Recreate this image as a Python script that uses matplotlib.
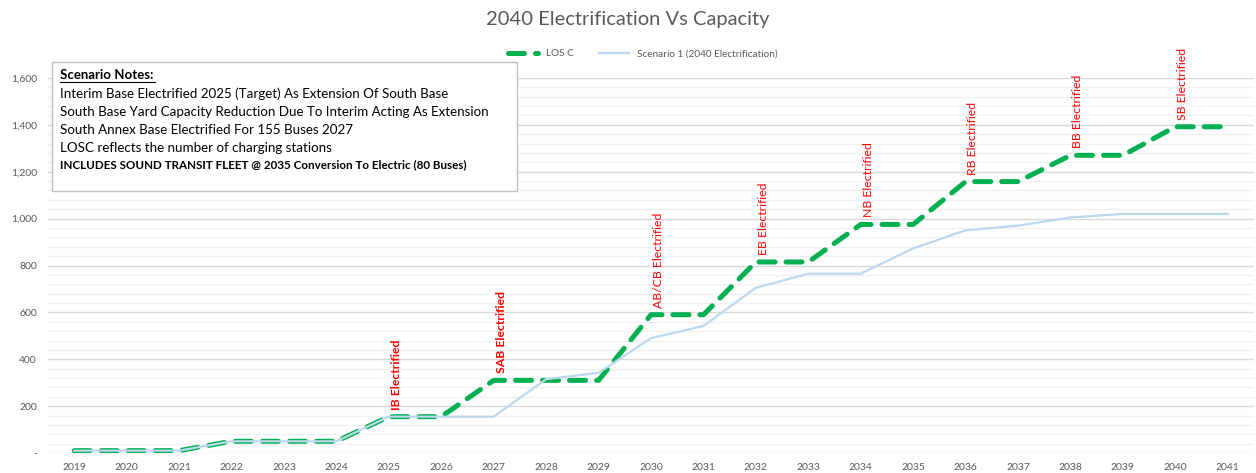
import matplotlib
matplotlib.use("Agg")
import matplotlib.pyplot as plt
from matplotlib.ticker import MultipleLocator, FuncFormatter
from matplotlib.patches import Rectangle

years = [str(y) for y in range(2019, 2042)]
los_c = [10, 10, 10, 50, 50, 50, 155, 155, 310, 310, 310, 590, 590,
         815, 815, 975, 975, 1158, 1158, 1270, 1270, 1392, 1392]
scenario1 = [10, 10, 10, 50, 50, 50, 155, 155, 155, 315, 342, 490, 542,
             705, 765, 765, 873, 950, 970, 1005, 1020, 1020, 1020]
label_years = ["2025", "2027", "2030", "2032", "2034", "2036", "2038", "2040"]
label_texts = ["IB Electrified", "SAB Electrified", "AB/CB Electrified", "EB Electrified",
               "NB Electrified", "RB Electrified", "BB Electrified", "SB Electrified"]
label_bold = [True, True, False, False, False, False, False, False]
notes_title = "Scenario Notes:"
notes_lines = [
    "Interim Base Electrified 2025 (Target) As Extension Of South Base",
    "South Base Yard Capacity Reduction Due To Interim Acting As Extension",
    "South Annex Base Electrified For 155 Buses 2027",
    "LOSC reflects the number of charging stations",
]
notes_bold = "INCLUDES SOUND TRANSIT FLEET @ 2035 Conversion To Electric (80 Buses)"

plt.rcParams['font.family'] = ['Lato', 'DejaVu Sans']

fig = plt.figure(figsize=(12.56, 4.73), dpi=100)
ax = fig.add_axes([48/1256, 1 - 453/473, (1254-48)/1256, (453-78)/473])

x = list(range(len(years)))
ax.plot(x, los_c, color='#00B050', lw=3.6, dashes=(3.2, 2.2),
        dash_capstyle='round', label='LOS C', zorder=3)
ax.plot(x, scenario1, color='#BDD7EE', lw=1.6,
        label='Scenario 1 (2040 Electrification)', zorder=4)

ax.set_xlim(-0.5, len(years) - 0.5)
ax.set_ylim(0, 1600)
ax.set_xticks(x)
ax.set_xticklabels(years)
ax.yaxis.set_major_locator(MultipleLocator(200))
ax.yaxis.set_minor_locator(MultipleLocator(40))
ax.yaxis.set_major_formatter(FuncFormatter(lambda v, p: '-' if v == 0 else f"{int(v):,}"))
ax.grid(axis='y', which='major', color='#D9D9D9', lw=1.0, zorder=0)
ax.grid(axis='y', which='minor', color='#F0F0F0', lw=0.9, zorder=0)
ax.set_axisbelow(True)
for s in ax.spines.values():
    s.set_visible(False)
ax.tick_params(axis='both', which='both', length=0, labelsize=7.5, labelcolor='#595959')
ax.tick_params(axis='x', pad=7)
ax.tick_params(axis='y', pad=8)

for yr, txt, b in zip(label_years, label_texts, label_bold):
    i = years.index(yr)
    ax.text(i + 0.14, los_c[i] + 30, txt, rotation=90, color='#FF0000',
            fontsize=8.8, fontweight='bold' if b else 'normal',
            ha='center', va='bottom', clip_on=False, zorder=5)

fig.text(0.5, 1 - 20/473, "2040 Electrification Vs Capacity", ha='center', va='center',
         fontsize=14.5, color='#595959')

leg = ax.legend(loc='center', bbox_to_anchor=(0.493, (54 - 453) / (78 - 453)), ncol=2,
                frameon=False, fontsize=7.2, handlelength=3.0, columnspacing=2.5)
for t in leg.get_texts():
    t.set_color('#595959')

# notes box
fig.patches.append(Rectangle((52/1256, 1 - 191/473), (517-52)/1256, (191-62)/473,
                             transform=fig.transFigure, facecolor='white',
                             edgecolor='#BFBFBF', lw=1.0, zorder=10))
tx = 60/1256
fig.text(tx, 1 - 75/473, notes_title, fontsize=9.5, fontweight='bold', va='center',
         ha='left', color='black', zorder=11)
yy = [94, 112, 130, 148]
for t, yv in zip(notes_lines, yy):
    fig.text(tx, 1 - yv/473, t, fontsize=9.6, va='center', ha='left', color='black', zorder=11)
fig.text(tx, 1 - 165/473, notes_bold, fontsize=8.4, fontweight='bold', va='center',
         ha='left', color='black', zorder=11)
fig.lines.append(plt.Line2D([tx, 155/1256], [1 - 82/473, 1 - 82/473],
                            transform=fig.transFigure, color='black', lw=0.8, zorder=11))

fig.savefig('out.png', dpi=100)
